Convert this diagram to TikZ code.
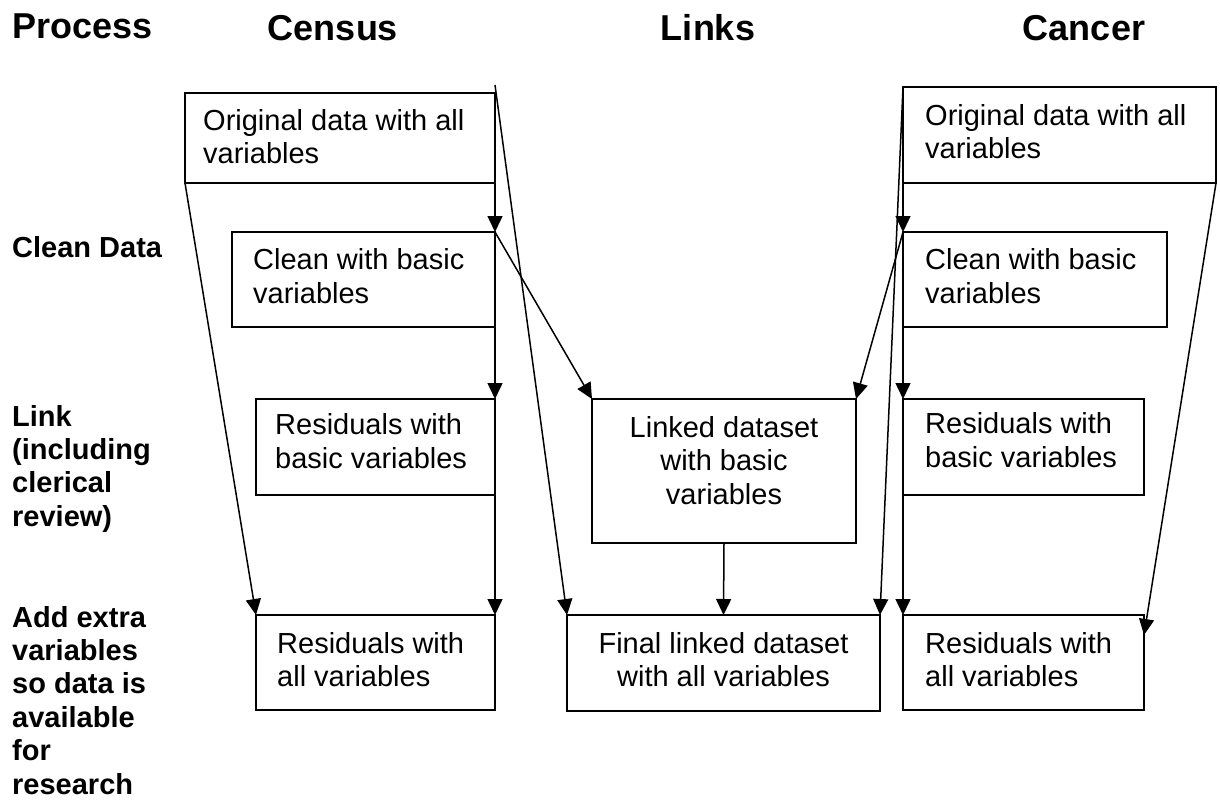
\documentclass[tikz,border=0pt]{standalone}
\usepackage{fontspec}
\setmainfont{Liberation Sans}
\usetikzlibrary{arrows.meta,calc}
\begin{document}
\begin{tikzpicture}[x=1pt,y=-1pt,
  box/.style={draw, line width=1.5pt, inner sep=0pt, outer sep=0pt},
  txt/.style={anchor=north west, inner sep=0pt, align=left, font=\fontsize{29}{33.5}\selectfont},
  ctxt/.style={anchor=north, inner sep=0pt, align=center, font=\fontsize{29}{33.5}\selectfont},
  head/.style={anchor=base, inner sep=0pt, font=\fontsize{36}{40}\selectfont\bfseries},
  lab/.style={anchor=north west, inner sep=0pt, align=left, font=\fontsize{29}{33.4}\selectfont\bfseries},
  conn/.style={line width=1.5pt, -{Triangle[length=16pt,width=15pt]}}
]
\fill[white] (0,0) rectangle (1220,800);
\useasboundingbox (0,0) rectangle (1220,800);

% headings
\node[head, anchor=base west] (hP) at (12,38) {Process};
\node[head] (hC) at (333,41) {Census};
\node[head] (hL) at (708,41) {Links};
\node[head] (hK) at (1084,41) {Cancer};

% process labels
\node[lab, anchor=base west] (pClean) at (12,257) {Clean Data};
\node[lab] (pLink) at (12,402.6) {\strut Link\\(including\\clerical\\review)};
\node[lab] (pAdd) at (12,603.6) {\strut Add extra\\variables\\so data is\\available\\for\\research};

% census boxes
\node[box, minimum width=310pt, minimum height=90pt] (cO) at (340,138) {};
\node[box, minimum width=263pt, minimum height=95pt] (cC) at (363.5,279.5) {};
\node[box, minimum width=239pt, minimum height=96pt] (cR) at (375.5,447) {};
\node[box, minimum width=239pt, minimum height=95pt] (cA) at (375.5,662.5) {};
% links boxes
\node[box, minimum width=264pt, minimum height=144pt] (lL) at (724,471) {};
\node[box, minimum width=313pt, minimum height=96pt] (lF) at (723.5,663) {};
% cancer boxes
\node[box, minimum width=313pt, minimum height=96pt] (kO) at (1059.5,135) {};
\node[box, minimum width=264pt, minimum height=95pt] (kC) at (1035,279.5) {};
\node[box, minimum width=241pt, minimum height=96pt] (kR) at (1023.5,447) {};
\node[box, minimum width=241pt, minimum height=95pt] (kA) at (1023.5,662.5) {};

% box texts
\node[txt] (cOt) at ($(cO.north west)+(18,13.5)$) {\strut Original data with all\\variables};
\node[txt] (cCt) at ($(cC.north west)+(21,14)$) {\strut Clean with basic\\variables};
\node[txt] (cRt) at ($(cR.north west)+(19,12)$) {\strut Residuals with\\basic variables};
\node[txt] (cAt) at ($(cA.north west)+(21,14.5)$) {\strut Residuals with\\all variables};
\node[ctxt] (lLt) at ($(lL.north)+(0,14.5)$) {\strut Linked dataset\\with basic\\variables};
\node[ctxt] (lFt) at ($(lF.north)+(0,14.5)$) {\strut Final linked dataset\\with all variables};
\node[txt] (kOt) at ($(kO.north west)+(22,14.5)$) {\strut Original data with all\\variables};
\node[txt] (kCt) at ($(kC.north west)+(22,14)$) {\strut Clean with basic\\variables};
\node[txt] (kRt) at ($(kR.north west)+(22,11)$) {\strut Residuals with\\basic variables};
\node[txt] (kAt) at ($(kA.north west)+(22,14.5)$) {\strut Residuals with\\all variables};

% connectors: census
\draw[conn] (cO.south east) -- (cC.north east);
\draw[conn] (cC.south east) -- (cR.north east);
\draw[conn] (cR.south east) -- (cA.north east);
\draw[conn] (cO.south west) -- (cA.north west);
\coordinate (cTop) at ($(cO.north east)+(0,-8)$);
\draw[conn] (cTop) -- (lF.north west);
\draw[conn] (cC.north east) -- (lL.north west);
% links
\draw[conn] (lL.south) -- (lF.north);
% cancer
\draw[conn] (kO.south west) -- (kC.north west);
\draw[conn] (kC.south west) -- (kR.north west);
\draw[conn] (kR.south west) -- (kA.north west);
\draw[conn] (kO.north west) -- (lF.north east);
\draw[conn] (kC.north west) -- (lL.north east);
\coordinate (kAr) at ($(kA.north east)+(0,20)$);
\draw[conn] (kO.south east) -- (kAr);
\end{tikzpicture}
\end{document}
